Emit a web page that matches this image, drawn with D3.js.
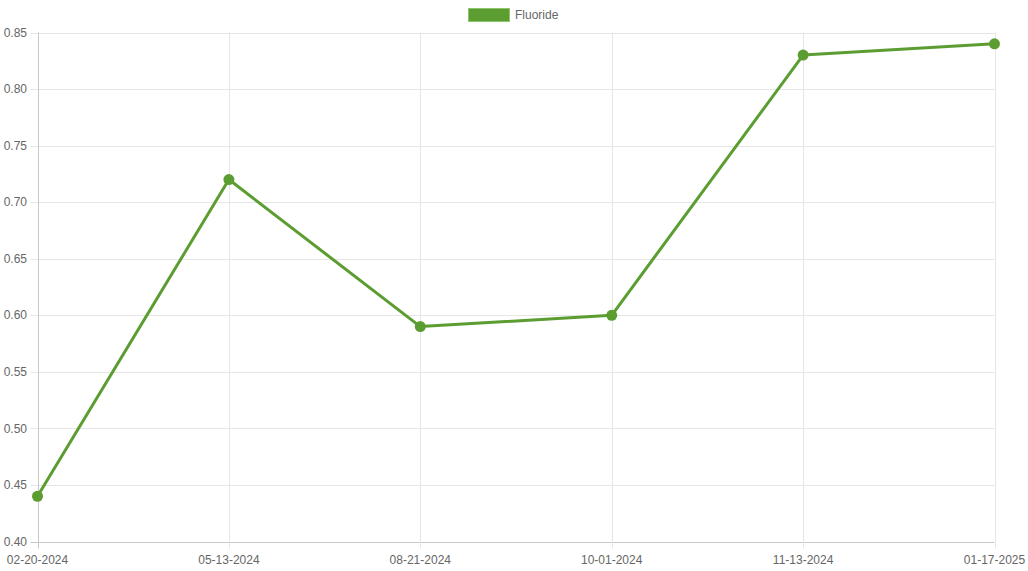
<!DOCTYPE html>
<html><head><meta charset="utf-8">
<script src="https://cdn.jsdelivr.net/npm/d3@7"></script>
<style>body{margin:0;background:#fff}svg{display:block}text{font-family:"Liberation Sans",Arial,sans-serif}</style>
</head><body>
<svg id="c" width="1028" height="571"></svg>
<script>
const categories = ["02-20-2024","05-13-2024","08-21-2024","10-01-2024","11-13-2024","01-17-2025"];
const fluoride = [0.44, 0.72, 0.59, 0.60, 0.83, 0.84];
const yTicks = [0.40,0.45,0.50,0.55,0.60,0.65,0.70,0.75,0.80,0.85];
const seriesName = "Fluoride";
const color = "#5c9d32";

const svg = d3.select("#c");
const L = 37.5, R = 994.5, T = 32.5, B = 541.5;
const x = d3.scalePoint().domain(categories).range([L, R]);
const y = d3.scaleLinear().domain([0.40, 0.85]).range([B, T]);

// grid
const g = svg.append("g");
g.selectAll("line.h").data(yTicks).join("line")
  .attr("x1", L-7).attr("x2", R).attr("y1", d=>Math.round(y(d))+0.5).attr("y2", d=>Math.round(y(d))+0.5)
  .attr("stroke", d=> d===0.40 ? "#c8c8c8" : "#e6e6e6").attr("stroke-width",1);
g.selectAll("line.v").data(categories).join("line")
  .attr("x1", d=>Math.round(x(d))+0.5).attr("x2", d=>Math.round(x(d))+0.5).attr("y1", T).attr("y2", B+7)
  .attr("stroke", (d,i)=> i===0 ? "#c8c8c8" : "#e6e6e6").attr("stroke-width",1);

// y labels
svg.append("g").selectAll("text").data(yTicks).join("text")
  .attr("x", 27).attr("y", d=>y(d)).attr("dy","0.35em").attr("text-anchor","end")
  .attr("font-size",12).attr("fill","#666").text(d=>d.toFixed(2));
// x labels
svg.append("g").selectAll("text").data(categories).join("text")
  .attr("x", d=>x(d)).attr("y", 564).attr("text-anchor","middle")
  .attr("font-size",12).attr("fill","#666").text(d=>d);

// line
const pts = categories.map((c,i)=>[x(c), y(fluoride[i])]);
svg.append("path").attr("d", d3.line()(pts)).attr("fill","none")
  .attr("stroke", color).attr("stroke-width",3).attr("stroke-linejoin","round");
svg.append("g").selectAll("circle").data(pts).join("circle")
  .attr("cx", d=>d[0]).attr("cy", d=>d[1]).attr("r",5.5).attr("fill",color);

// legend
svg.append("rect").attr("x",468.5).attr("y",8.5).attr("width",41).attr("height",13)
  .attr("fill",color).attr("stroke","#8ec46a").attr("stroke-width",1);
svg.append("text").attr("x",515).attr("y",15).attr("dy","0.35em").attr("font-size",12)
  .attr("fill","#666").text(seriesName);
</script>
</body></html>
